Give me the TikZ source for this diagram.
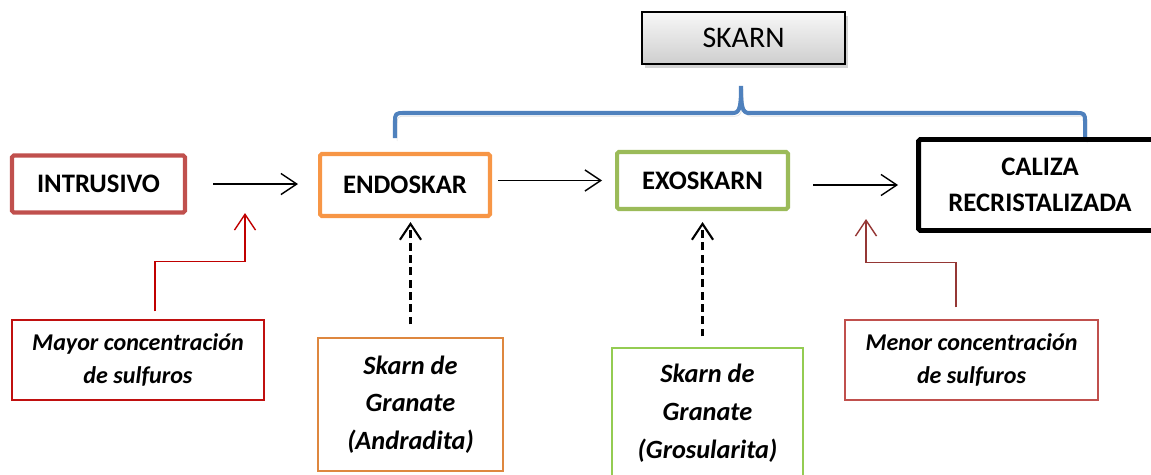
\documentclass[tikz,border=0pt]{standalone}
\usepackage{fontspec}
\setmainfont{Carlito}
\usetikzlibrary{arrows.meta,shadows}
\definecolor{intred}{HTML}{C0504D}
\definecolor{endorange}{HTML}{F79646}
\definecolor{exogreen}{HTML}{9BBB59}
\definecolor{grosgreen}{HTML}{92D050}
\definecolor{mayred}{HTML}{C00000}
\definecolor{menbrown}{HTML}{953735}
\definecolor{braceblue}{HTML}{4F81BD}
\tikzset{
  stage/.style={draw,line width=2.3pt,rounded corners=1pt,align=center,inner sep=0pt,
    font=\fontsize{15.2}{20.8}\selectfont\bfseries},
  note/.style={draw,line width=0.7pt,align=center,inner sep=0pt,
    font=\fontsize{13.7}{19}\selectfont\bfseries\itshape},
  flow/.style={line width=0.8pt,-{Straight Barb[length=9pt,width=12pt]}},
  dflow/.style={flow,line width=1.2pt,dash pattern=on 4.5pt off 2.5pt},
  brace/.style={draw=braceblue,line width=2.3pt}
}
\begin{document}
\begin{tikzpicture}[x=0.02cm,y=-0.02cm]
                \useasboundingbox (0,0) rectangle (1151,474);
                \clip (0,0) rectangle (1151,474);
                %% title and brace
                \node[draw,line width=1pt,inner sep=0pt,minimum width=4.06cm,minimum height=1.04cm,
                  top color=gray!6,bottom color=gray!38,
                  drop shadow={opacity=0.35,shadow xshift=1.5pt,shadow yshift=-2pt},
                  font=\fontsize{17}{20}\selectfont] (skarn) at (743.5,38) {SKARN};
                \draw[brace,preaction={draw=black,opacity=0.12,transform canvas={xshift=1.2pt,yshift=-1.8pt}}]
                  (395,138) -- (395,121) .. controls (395,114) and (396,113) .. (403,113)
                  -- (733,113) .. controls (740,113) and (741,106) .. (741,86)
                  .. controls (741,106) and (742,113) .. (749,113)
                  -- (1077,113) .. controls (1084,113) and (1085,114) .. (1085,121) -- (1085,140);
                %% stages
                \node[stage,draw=intred,minimum width=3.46cm,minimum height=1.14cm] (intr) at (98.5,184) {INTRUSIVO};
                \node[stage,draw=endorange,minimum width=3.40cm,minimum height=1.24cm] (endo) at (405,185) {ENDOSKAR};
                \node[stage,draw=exogreen,minimum width=3.42cm,minimum height=1.14cm] (exo) at (702.5,180.5) {EXOSKARN};
                \node[stage,draw=black,line width=2.8pt,minimum width=4.86cm,minimum height=1.82cm] (caliza) at (1040,185) {CALIZA\\RECRISTALIZADA};
                %% notes
                \node[note,draw=mayred!80!intred,minimum width=5.04cm,minimum height=1.60cm] (mayor) at (138,360) {Mayor concentración\\de sulfuros};
                \node[note,draw=endorange!90!black,minimum width=3.70cm,minimum height=2.66cm,font=\fontsize{15}{21.5}\selectfont\bfseries\itshape] (andr) at (410.5,404.5) {Skarn de\\Granate\\(Andradita)};
                \node[note,draw=grosgreen!80!exogreen,minimum width=3.82cm,minimum height=2.60cm,font=\fontsize{15}{21.5}\selectfont\bfseries\itshape] (gros) at (707.5,413) {Skarn de\\Granate\\(Grosularita)};
                \node[note,draw=intred,minimum width=5.06cm,minimum height=1.60cm] (menor) at (971.5,360) {Menor concentración\\de sulfuros};
                %% arrows
                \draw[flow,shorten <=0.52cm,shorten >=0.40cm] (intr.east) -- (intr.east -| endo.west);
                \draw[flow,shorten <=0.12cm,shorten >=0.26cm] (endo.east |- exo.west) -- (exo.west);
                \draw[flow,shorten <=0.46cm,shorten >=0.36cm] (caliza.west -| exo.east) -- (caliza.west);
                \coordinate (mayortip) at (245,213);
                \coordinate (menortip) at (866,219);
                \draw[flow,mayred,shorten <=0.16cm] ([xshift=0.34cm]mayor.north) -- ++(0,-58) -| (mayortip);
                \draw[flow,menbrown,shorten <=0.24cm] ([xshift=-0.31cm]menor.north) -- ++(0,-57) -| (menortip);
                \draw[dflow,shorten <=0.26cm,shorten >=0.08cm] (andr.north) -- (andr.north |- endo.south);
                \draw[dflow,shorten <=0.22cm,shorten >=0.22cm] (exo.south |- gros.north) -- (exo.south);
            \end{tikzpicture}
\end{document}
